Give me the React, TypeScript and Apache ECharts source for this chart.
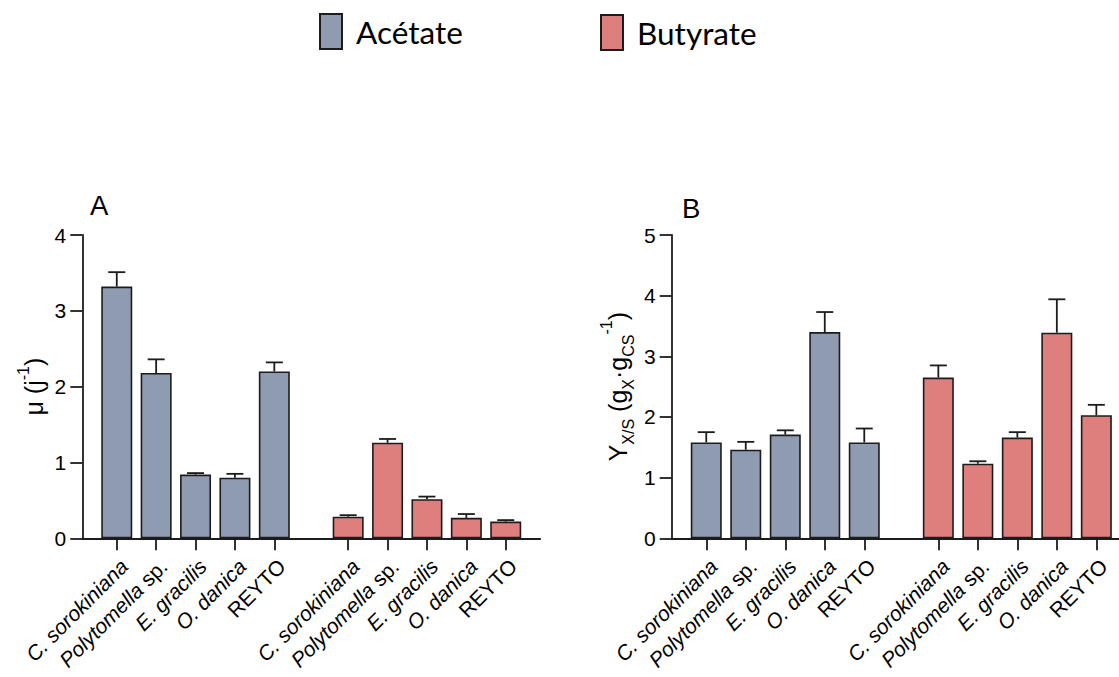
import React, { useEffect, useRef } from "react";
import * as echarts from "echarts";

// ---------- data ----------
const organisms = ["C. sorokiniana", "Polytomella sp.", "E. gracilis", "O. danica", "REYTO"];
const substrates = ["Acétate", "Butyrate"];

// Panel A: growth rate µ (j-1)
const muAcetate = [3.32, 2.18, 0.84, 0.8, 2.2];
const muAcetateSd = [0.19, 0.18, 0.02, 0.05, 0.12];
const muButyrate = [0.285, 1.26, 0.515, 0.27, 0.22];
const muButyrateSd = [0.02, 0.05, 0.035, 0.05, 0.02];

// Panel B: yield Yx/s
const yieldAcetate = [1.58, 1.46, 1.71, 3.4, 1.58];
const yieldAcetateSd = [0.17, 0.13, 0.07, 0.33, 0.23];
const yieldButyrate = [2.65, 1.23, 1.66, 3.39, 2.03];
const yieldButyrateSd = [0.2, 0.04, 0.09, 0.55, 0.17];

const muAxis = { min: 0, max: 4, interval: 1 };
const yieldAxis = { min: 0, max: 5, interval: 1 };

// ---------- styling ----------
const COLORS = ["#8E9BB1", "#DE7F7E"];
const INK = "#1c1c1c";
const FONT = "Liberation Sans, Arial, sans-serif";
const PAD = 0.875; // gap (in slots) at axis ends and between groups

const n = organisms.length;
const acetatePos = organisms.map((_, i) => i);
const butyratePos = organisms.map((_, i) => n + PAD + i);
const allPos = [...acetatePos, ...butyratePos];
const allNames = [...organisms, ...organisms];
const xMin = -PAD;
const xMax = 2 * n - 1 + PAD + PAD;

function labelRich(name: string) {
  if (name === "REYTO") return "{n|" + name + "}";
  if (name.endsWith(" sp.")) return "{i|" + name.slice(0, -4) + "}{n| sp.}";
  return "{i|" + name + "}";
}

function xFormatter(v: number) {
  const idx = allPos.findIndex((p) => Math.abs(p - v) < 1e-6);
  return idx >= 0 ? labelRich(allNames[idx]) : "";
}

function App() {
  const ref = useRef<HTMLDivElement>(null);

  useEffect(() => {
    if (!ref.current) return;
    const chart = echarts.init(ref.current, null, { renderer: "svg" });

    const LBL = 21;
    const makeX = (gridIndex: number) => ({
      type: "value",
      gridIndex,
      min: xMin,
      max: xMax,
      splitLine: { show: false },
      axisLine: { show: true, onZero: false, lineStyle: { color: INK, width: 1.8 } },
      axisTick: { show: true, customValues: allPos, length: 12, lineStyle: { color: INK, width: 1.8 } },
      axisLabel: {
        show: true,
        customValues: allPos,
        formatter: xFormatter,
        rotate: 45,
        align: "right",
        verticalAlign: "top",
        margin: 17,
        color: "#000",
        fontFamily: FONT,
        fontSize: LBL,
        rich: {
          i: { fontStyle: "italic", fontSize: LBL, fontFamily: FONT, color: "#000" },
          n: { fontSize: LBL, fontFamily: FONT, color: "#000" },
        },
      },
    });

    const makeY = (gridIndex: number, ax: { min: number; max: number; interval: number }, name: string, nameGap: number) => ({
      type: "value",
      gridIndex,
      min: ax.min,
      max: ax.max,
      interval: ax.interval,
      splitLine: { show: false },
      axisLine: { show: true, onZero: false, lineStyle: { color: INK, width: 1.8 } },
      axisTick: { show: true, length: 12, lineStyle: { color: INK, width: 1.8 } },
      axisLabel: { margin: 16, color: "#000", fontFamily: FONT, fontSize: 21 },
      name,
      nameLocation: "middle",
      nameGap,
      nameTextStyle: {
        rich: {
          n: { fontSize: 25, lineHeight: 38, fontFamily: FONT, color: "#000" },
          s: { fontSize: 16, lineHeight: 15, verticalAlign: "top", fontFamily: FONT, color: "#000" },
          b: { fontSize: 16, lineHeight: 15, verticalAlign: "bottom", fontFamily: FONT, color: "#000" },
        },
      },
    });

    const barSeries = (name: string, color: string, pos: number[], vals: number[], gi: number) => ({
      name,
      type: "bar",
      xAxisIndex: gi,
      yAxisIndex: gi,
      barWidth: 31,
      barGap: "-100%",
      itemStyle: { color, borderColor: INK, borderWidth: 1.6 },
      data: pos.map((p, i) => [p, vals[i]]),
      z: 2,
    });

    const errSeries = (pos: number[], vals: number[], sd: number[], gi: number) => ({
      type: "custom",
      xAxisIndex: gi,
      yAxisIndex: gi,
      encode: { x: 0, y: 1 },
      z: 3,
      silent: true,
      data: pos.map((p, i) => [p, vals[i], sd[i]]),
      renderItem: (_params: any, api: any) => {
        const x = api.value(0);
        const y = api.value(1);
        const e = api.value(2);
        const base = api.coord([x, y]);
        const top = api.coord([x, y + e]);
        const half = 8.5;
        const style = { stroke: INK, lineWidth: 1.8 };
        return {
          type: "group",
          children: [
            { type: "line", shape: { x1: base[0], y1: base[1], x2: top[0], y2: top[1] }, style },
            { type: "line", shape: { x1: top[0] - half, y1: top[1], x2: top[0] + half, y2: top[1] }, style },
          ],
        };
      },
    });

    const legendBase = {
      orient: "horizontal",
      padding: 0,
      itemWidth: 22,
      itemHeight: 35,
      icon: "rect",
      selectedMode: false,
      textStyle: { fontSize: 31.5, fontFamily: "Lato, Open Sans, sans-serif", color: "#000", padding: [0, 0, 0, 9] },
    };

    const titleStyle = { fontSize: 27.5, fontWeight: "normal", fontFamily: FONT, color: "#000" };

    chart.setOption({
      animation: false,
      backgroundColor: "#fff",
      title: [
        { text: "A", left: 90, top: 191, padding: 0, textStyle: titleStyle },
        { text: "B", left: 682, top: 194, padding: 0, textStyle: titleStyle },
      ],
      legend: [
        { ...legendBase, data: [substrates[0]], left: 319, top: 13 },
        { ...legendBase, data: [substrates[1]], left: 600, top: 14 },
      ],
      grid: [
        { left: 82.3, top: 235, width: 457.9, height: 303.3, containLabel: false, outerBoundsMode: "none" },
        { left: 671.7, top: 235, width: 459.2, height: 303.3, containLabel: false, outerBoundsMode: "none" },
      ],
      xAxis: [makeX(0), makeX(1)],
      yAxis: [
        makeY(0, muAxis, "{n|μ (j}{s|-1}{n|)}", 29),
        makeY(1, yieldAxis, "{n|Y}{b|X/S}{n| (g}{b|X}{n|·g}{b|CS}{s|-1}{n|)}", 35),
      ],
      series: [
        barSeries(substrates[0], COLORS[0], acetatePos, muAcetate, 0),
        barSeries(substrates[1], COLORS[1], butyratePos, muButyrate, 0),
        errSeries(acetatePos, muAcetate, muAcetateSd, 0),
        errSeries(butyratePos, muButyrate, muButyrateSd, 0),
        barSeries(substrates[0], COLORS[0], acetatePos, yieldAcetate, 1),
        barSeries(substrates[1], COLORS[1], butyratePos, yieldButyrate, 1),
        errSeries(acetatePos, yieldAcetate, yieldAcetateSd, 1),
        errSeries(butyratePos, yieldButyrate, yieldButyrateSd, 1),
      ],
    });

    return () => chart.dispose();
  }, []);

  return (
    <div
      ref={ref}
      style={{ position: "fixed", left: 0, top: 0, width: 1119, height: 677, background: "#fff" }}
    />
  );
}

export default App;
